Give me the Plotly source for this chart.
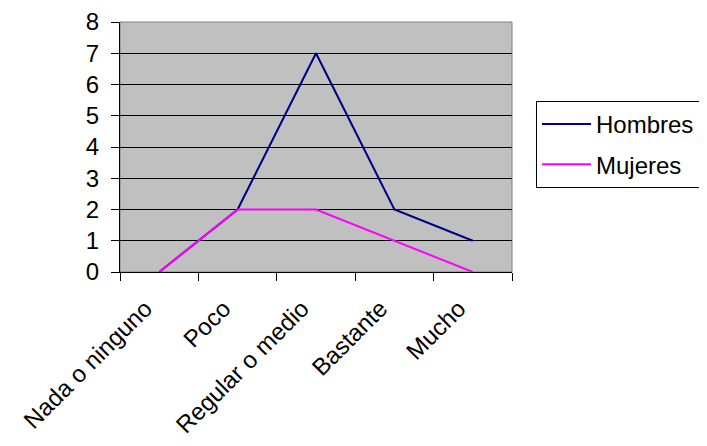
import plotly.graph_objects as go

categories = ["Nada o ninguno", "Poco", "Regular o medio", "Bastante", "Mucho"]
hombres = [0, 2, 7, 2, 1]
mujeres = [0, 2, 2, 1, 0]
y_ticks = [0, 1, 2, 3, 4, 5, 6, 7, 8]

font = "Liberation Sans, Arial, sans-serif"

fig = go.Figure()
fig.add_trace(go.Scatter(x=categories, y=hombres, mode="lines", name="Hombres",
                         line=dict(color="#000080", width=2), legendgroup="h"))
fig.add_trace(go.Scatter(x=categories, y=mujeres, mode="lines", name="Mujeres",
                         line=dict(color="#FF00FF", width=2), legendgroup="m"))

# page body has an 8px margin, so the figure is sized/offset to compensate
fig.update_layout(
    width=699, height=438,
    margin=dict(l=112, r=195, t=14, b=174, autoexpand=False),
    paper_bgcolor="white",
    plot_bgcolor="#C0C0C0",
    font=dict(family=font, size=24, color="black"),
    showlegend=True,
    legend=dict(x=(536 - 120) / 392, y=(272 - 101) / 250, xanchor="left", yanchor="top",
                bordercolor="black", borderwidth=1, bgcolor="white",
                font=dict(size=24), tracegroupgap=6,
                itemwidth=49),
    xaxis=dict(type="category", range=[-0.5, 4.5], tickson="boundaries",
               ticks="outside", ticklen=8, tickcolor="black",
               showline=True, linecolor="black", linewidth=1, mirror=False,
               showgrid=False, tickangle=-45, tickfont=dict(size=24),
               ticklabelshift=-14, ticklabelstandoff=12,
               automargin=False),
    yaxis=dict(range=[0, 8], tickvals=y_ticks, ticks="outside", ticklen=8,
               tickcolor="black", showline=True, linecolor="black", linewidth=1,
               showgrid=True, gridcolor="#000000", gridwidth=1, zeroline=False,
               tickfont=dict(size=24), ticklabelstandoff=7, automargin=False),
)
# plot area border (top/right) in gray
fig.add_shape(type="rect", xref="paper", yref="paper", x0=0, y0=0, x1=1, y1=1,
              line=dict(color="#808080", width=1), layer="below")

fig.write_html("out.html")
